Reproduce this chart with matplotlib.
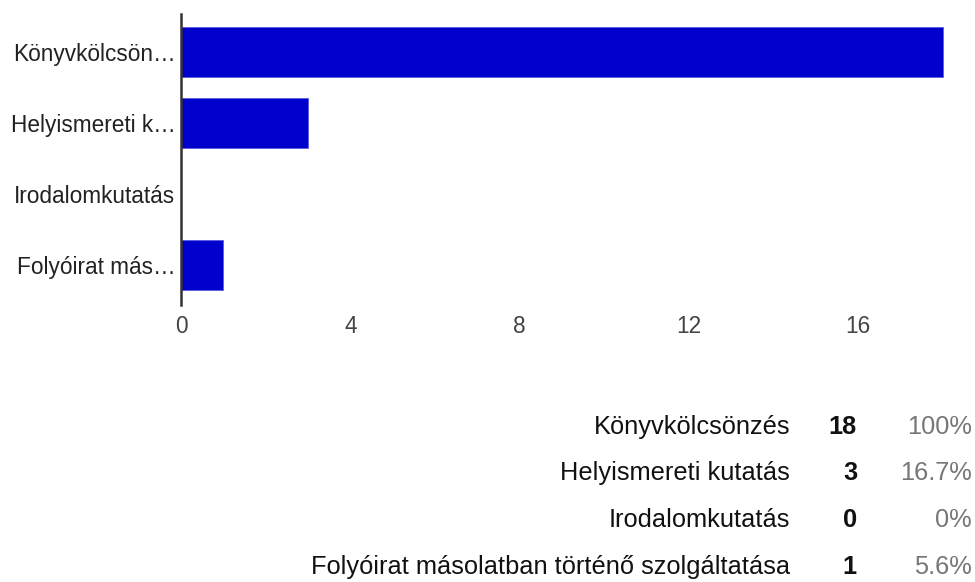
import matplotlib.pyplot as plt
import numpy as np

plt.rcParams['font.family'] = ['Liberation Sans', 'DejaVu Sans']

# adatok
kategoriak = ['Könyvkölcsönzés', 'Helyismereti kutatás', 'Irodalomkutatás',
              'Folyóirat másolatban történő szolgáltatása']
rovid = ['Könyvkölcsön…', 'Helyismereti k…', 'Irodalomkutatás', 'Folyóirat más…']
darab = [18, 3, 0, 1]
szazalek = ['100%', '16.7%', '0%', '5.6%']
xticks = [0, 4, 8, 12, 16]

fig = plt.figure(figsize=(9.75, 5.82), dpi=100)
ax = fig.add_axes([0.1856, 0.4828, 0.7836, 0.4897])

y = np.arange(len(kategoriak))
ax.barh(y, darab, height=0.70, color='#0000cc', edgecolor='#5a5ae0', linewidth=0.6)
ax.set_ylim(3.5, -0.5)
ax.set_xlim(0, 18.05)
ax.set_yticks(y)
ax.set_yticklabels(rovid, fontsize=16.3, color='#222222')
ax.set_xticks(xticks)
ax.set_xticklabels([str(t) for t in xticks], fontsize=16.3, color='#444444')
ax.tick_params(length=0, axis='y', pad=4)
ax.tick_params(length=0, axis='x', pad=10)
for s in ['top', 'right', 'bottom']:
    ax.spines[s].set_visible(False)
ax.spines['left'].set_color('#333333')
ax.spines['left'].set_linewidth(1.8)
ax.spines['left'].set_bounds(-0.53, 3.55)

# tablazat alul
sorok_y = [427, 473, 520, 567]
for i in range(len(kategoriak)):
    yy = 1 - sorok_y[i] / 582
    fig.text(790 / 975, yy, kategoriak[i], ha='right', va='center', fontsize=18.3, color='#111111')
    fig.text(857 / 975, yy, str(darab[i]), ha='right', va='center', fontsize=18.3,
             fontweight='bold', color='#111111')
    fig.text(972 / 975, yy, szazalek[i], ha='right', va='center', fontsize=18.3, color='#777777')

plt.savefig('out.png', dpi=100)
